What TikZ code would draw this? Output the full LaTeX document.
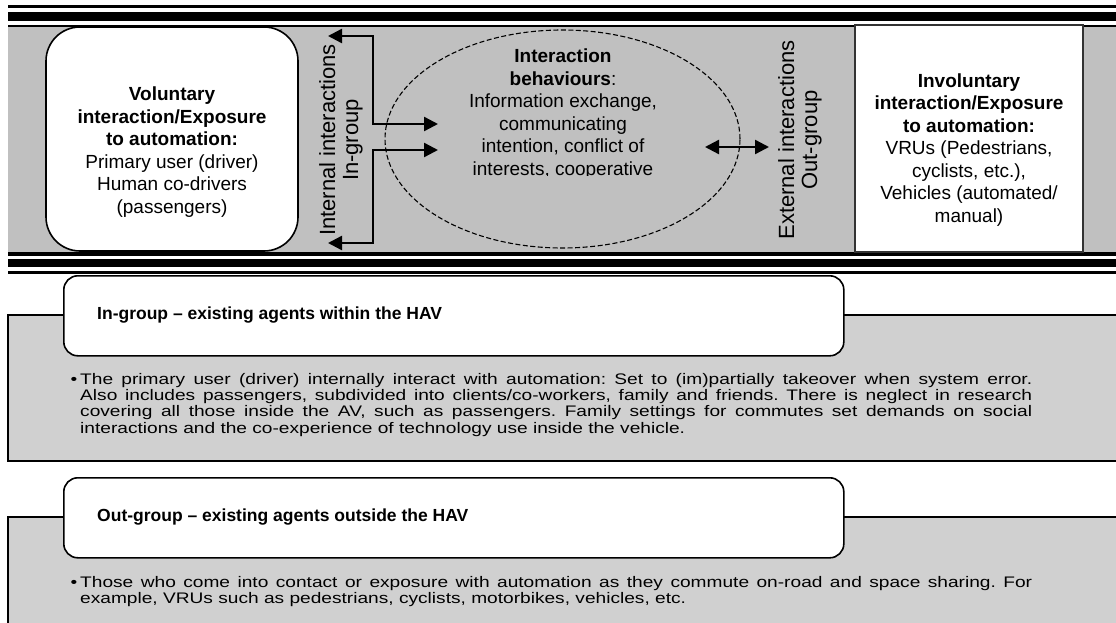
\documentclass[tikz,border=0pt]{standalone}
\usepackage{fontspec}
\setmainfont{Liberation Sans}
\newfontfamily\bodyfont[FakeStretch=1.25]{Liberation Sans}
\usetikzlibrary{arrows.meta,shapes.geometric}

\definecolor{bandgray}{HTML}{C0C0C0}
\definecolor{panelgray}{HTML}{D0D0D0}

\tikzset{
  boxtext/.style={align=center, font=\fontsize{19}{22.5}\selectfont, inner sep=0pt},
  sidelabel/.style={rotate=90, align=center, font=\fontsize{22}{23}\selectfont, inner sep=0pt},
  linkarrow/.style={line width=2.4pt, {Triangle[length=14pt,width=14pt]}-{Triangle[length=14pt,width=14pt]}},
  header/.style={draw, line width=1.6pt, fill=white, rounded corners=14pt,
    minimum width=780pt, minimum height=80pt, anchor=north west, inner sep=0pt},
  headtext/.style={anchor=west, font=\fontsize{17.5}{20}\selectfont\bfseries, inner sep=0pt},
  bodytext/.style={anchor=north west, text width=952pt, align=justify,
    font=\bodyfont\fontsize{15.3}{16.3}\selectfont\frenchspacing, inner sep=0pt},
  panel/.style={draw, line width=1.6pt, fill=panelgray}
}

\begin{document}
\begin{tikzpicture}[x=1pt, y=-1pt]
\useasboundingbox (0,0) rectangle (1116,623);

% road-like stripes above and below the grey band
\fill (8,5) rectangle (1116,8);
\fill (8,12) rectangle (1116,21);
\fill (8,25) rectangle (1116,27.5);
\fill[bandgray] (8,27.5) rectangle (1116,251.5);
\fill (8,252) rectangle (1116,256);
\fill (8,259) rectangle (1116,267);
\fill (8,271) rectangle (1116,274);

% voluntary exposure (in-group)
\node[draw, line width=1.6pt, fill=white, rounded corners=34pt,
      minimum width=252pt, minimum height=224pt] (vol) at (172,139) {};
\node[boxtext] (voltext) at (172,152)
  {\textbf{Voluntary}\\\textbf{interaction/Exposure}\\\textbf{to automation:}\\
   Primary user (driver)\\Human co-drivers\\(passengers)};

% internal interactions label and arrows
\node[sidelabel] (intlab) at (341,140) {Internal interactions\\In-group};
\coordinate (intTop) at (328,36);
\coordinate (intBot) at (328,243);
\coordinate (ellIn1) at (438,124);
\coordinate (ellIn2) at (438,150);

% interaction behaviours
\node[ellipse, draw, dashed, dash pattern=on 5pt off 2.5pt, line width=1.1pt, fill=bandgray,
      minimum width=355pt, minimum height=218pt, inner sep=0pt] (ell) at (562.5,139) {};
\begin{scope}
  \clip (430,30) rectangle (700,175);
  \node[boxtext] (behav) at (563,114)
    {\textbf{Interaction}\\\textbf{behaviours}:\\Information exchange,\\communicating\\
     intention, conflict of\\interests, cooperative};
\end{scope}

\draw[linkarrow] (intTop) -| (373,124) -- (ellIn1);
\draw[linkarrow] (ellIn2) -- (373,150) |- (intBot);

% external interactions
\coordinate (extL) at (705,147);
\coordinate (extR) at (769,147);
\draw[linkarrow] (extL) -- (extR);
\node[sidelabel] (extlab) at (800,140) {External interactions\\Out-group};

% involuntary exposure (out-group)
\node[draw=black!80, line width=1.6pt, fill=white,
      minimum width=228pt, minimum height=227pt] (invol) at (969,138.5) {};
\node[boxtext] (involtext) at (969,150)
  {\textbf{Involuntary}\\\textbf{interaction/Exposure}\\\textbf{to automation:}\\
   VRUs (Pedestrians,\\cyclists, etc.),\\Vehicles (automated/\\manual)};

% in-group panel
\draw[panel] (1125,315) -- (8,315) -- (8,461) -- (1125,461);
\node[header] (inhead) at (63,275) {};
\node[headtext] (inheadtext) at (97,315) {In-group – existing agents within the HAV};
\node[bodytext] (inbody) at (80,373)
  {\leavevmode\llap{\textbullet\hspace{3pt}}The primary user (driver) internally interact with automation: Set to (im)partially takeover when system error.\linebreak
   Also includes passengers, subdivided into clients/co-workers, family and friends. There is neglect in research\linebreak
   covering all those inside the AV, such as passengers. Family settings for commutes set demands on social\linebreak
   interactions and the co-experience of technology use inside the vehicle.};

% out-group panel
\draw[panel] (1125,517) -- (8,517) -- (8,640) -- (1125,640);
\node[header] (outhead) at (63,477) {};
\node[headtext] (outheadtext) at (97,517) {Out-group – existing agents outside the HAV};
\node[bodytext] (outbody) at (80,576)
  {\leavevmode\llap{\textbullet\hspace{3pt}}Those who come into contact or exposure with automation as they commute on-road and space sharing. For\linebreak
   example, VRUs such as pedestrians, cyclists, motorbikes, vehicles, etc.};
\end{tikzpicture}
\end{document}
